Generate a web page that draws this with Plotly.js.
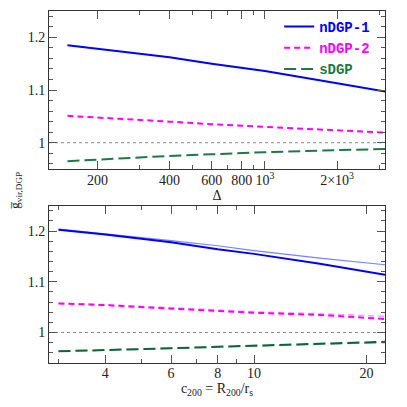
<!DOCTYPE html>
<html>
<head>
<meta charset="utf-8">
<script src="https://cdn.plot.ly/plotly-3.0.1.min.js"></script>
<style>html,body{margin:0;padding:0;background:#fff;}#chart{width:407px;height:407px;}</style>
</head>
<body>
<div id="chart"></div>
<script>
// ---- Top panel data (x = Delta) ----
var deltaVals = [150, 200, 300, 400, 600, 1000, 2000, 3200];
var topNDGP1 = [1.185, 1.178, 1.169, 1.162, 1.150, 1.136, 1.113, 1.097];
var topNDGP2 = [1.051, 1.048, 1.043, 1.040, 1.035, 1.030, 1.023, 1.019];
var topSDGP  = [0.965, 0.968, 0.972, 0.975, 0.978, 0.982, 0.986, 0.988];

// ---- Bottom panel data (x = c200) ----
var cVals = [3, 4, 6, 8, 10, 15, 22.4];
var botNDGP1      = [1.2025, 1.193, 1.178, 1.164, 1.155, 1.1355, 1.114];
var botNDGP1Thin  = [1.204, 1.195, 1.181, 1.171, 1.1615, 1.1465, 1.1336];
var botNDGP2      = [1.0574, 1.054, 1.047, 1.042, 1.039, 1.0346, 1.0268];
var botNDGP2Thin  = [1.058, 1.055, 1.049, 1.044, 1.041, 1.037, 1.032];
var botSDGP       = [0.963, 0.965, 0.969, 0.972, 0.974, 0.978, 0.9818];
var botSDGPThin   = [0.963, 0.965, 0.969, 0.972, 0.973, 0.977, 0.980];

// ---- Ticks ----
var topXTickVals = [200, 400, 600, 800, 1000, 2000];
var topXTickText = ["200", "400", "600", "800", "10<sup>3</sup>", "2×10<sup>3</sup>"];
var topXMinor = [300, 500, 700, 900, 3000];
var botXTickVals = [4, 6, 8, 10, 20];
var botXTickText = ["4", "6", "8", "10", "20"];
var botXMinor = [3, 5, 7, 9];
var yTickVals = [1.0, 1.1, 1.2];
var yTickText = ["1", "1.1", "1.2"];
var refLine = 1;

var serif = "Liberation Serif";
var cBlue = "#0000ff", cMag = "#ff00ff", cGreen = "#1b7a45";
var cBlueThin = "rgba(70,90,255,0.75)", cMagThin = "rgba(255,120,255,0.75)", cGreenThin = "rgba(110,180,140,0.8)";
var dashShort = "6px,4px", dashLong = "12px,5px";

var traces = [
  {x: deltaVals, y: topNDGP1, xaxis: "x", yaxis: "y", mode: "lines", name: '<span style="color:#0000ff">nDGP-1</span>', line: {color: cBlue, width: 2}},
  {x: deltaVals, y: topNDGP2, xaxis: "x", yaxis: "y", mode: "lines", name: '<span style="color:#ff00ff">nDGP-2</span>', line: {color: cMag, width: 2, dash: dashShort}},
  {x: deltaVals, y: topSDGP, xaxis: "x", yaxis: "y", mode: "lines", name: '<span style="color:#1b7a45">sDGP</span>', line: {color: cGreen, width: 2, dash: dashLong}},
  {x: cVals, y: botNDGP1Thin, xaxis: "x2", yaxis: "y2", mode: "lines", showlegend: false, line: {color: cBlueThin, width: 1.2}},
  {x: cVals, y: botNDGP2Thin, xaxis: "x2", yaxis: "y2", mode: "lines", showlegend: false, line: {color: cMagThin, width: 1.5, dash: dashShort}},
  {x: cVals, y: botSDGPThin, xaxis: "x2", yaxis: "y2", mode: "lines", showlegend: false, line: {color: cGreenThin, width: 1.5, dash: dashLong}},
  {x: cVals, y: botNDGP1, xaxis: "x2", yaxis: "y2", mode: "lines", showlegend: false, line: {color: cBlue, width: 2}},
  {x: cVals, y: botNDGP2, xaxis: "x2", yaxis: "y2", mode: "lines", showlegend: false, line: {color: cMag, width: 2, dash: dashShort}},
  {x: cVals, y: botSDGP, xaxis: "x2", yaxis: "y2", mode: "lines", showlegend: false, line: {color: "#0f6535", width: 2, dash: dashLong}}
];

var axCommon = {
  showgrid: false, zeroline: false, showline: true, linecolor: "#333", linewidth: 1,
  mirror: "ticks", ticks: "inside", ticklen: 8, tickcolor: "#555", tickwidth: 1,
  tickfont: {family: serif, size: 14, color: "#222"}
};
function ax(extra) { return Object.assign({}, axCommon, extra); }

var layout = {
  width: 407, height: 407,
  font: {family: serif, size: 14, color: "#222"},
  margin: {l: 49, r: 22, t: 11, b: 44},
  paper_bgcolor: "#fff", plot_bgcolor: "#fff",
  showlegend: true,
  legend: {x: 0.685, y: 1.0, xanchor: "left", yanchor: "top", bgcolor: "rgba(0,0,0,0)", itemwidth: 30,
    font: {family: "Liberation Mono", size: 14, weight: "bold"}, tracegroupgap: 0},
  xaxis: ax({type: "log", range: [Math.log10(125.6), Math.log10(3170)], anchor: "y",
    tickmode: "array", tickvals: topXTickVals, ticktext: topXTickText, ticklabelstandoff: -2,
    minor: {tickmode: "array", tickvals: topXMinor, ticks: "inside", ticklen: 4, tickcolor: "#555"},
    title: {text: "Δ", font: {family: serif, size: 14, color: "#222"}, standoff: 2}}),
  yaxis: ax({domain: [0.551, 1], range: [0.95, 1.25], anchor: "x",
    tickmode: "array", tickvals: yTickVals, ticktext: yTickText,
    minor: {dtick: 0.02, tick0: 0, ticks: "inside", ticklen: 4, tickcolor: "#555"}}),
  xaxis2: ax({type: "log", range: [Math.log10(2.83), Math.log10(22.4)], anchor: "y2",
    tickmode: "array", tickvals: botXTickVals, ticktext: botXTickText, ticklabelstandoff: -3,
    minor: {tickmode: "array", tickvals: botXMinor, ticks: "inside", ticklen: 4, tickcolor: "#555"},
    title: {text: "c<sub>200</sub> = R<sub>200</sub>/r<sub>s</sub>", font: {family: serif, size: 14, color: "#222"}, standoff: 0}}),
  yaxis2: ax({domain: [0, 0.447], range: [0.94, 1.25], anchor: "x2",
    tickmode: "array", tickvals: yTickVals, ticktext: yTickText,
    minor: {dtick: 0.02, tick0: 0, ticks: "inside", ticklen: 4, tickcolor: "#555"}}),
  shapes: [
    {type: "line", xref: "x domain", yref: "y", x0: 0, x1: 1, y0: refLine, y1: refLine, line: {color: "#888", width: 1, dash: "dot"}, layer: "below"},
    {type: "line", xref: "x2 domain", yref: "y2", x0: 0, x1: 1, y0: refLine, y1: refLine, line: {color: "#888", width: 1, dash: "dot"}, layer: "below"}
  ],
  annotations: [
    {text: "g̅<sub>vir,DGP</sub>", xref: "paper", yref: "paper", x: -0.13, y: 0.49, textangle: -90,
      showarrow: false, font: {family: serif, size: 13, color: "#222"}}
  ]
};

Plotly.newPlot("chart", traces, layout, {displayModeBar: false, staticPlot: true});
</script>
</body>
</html>
